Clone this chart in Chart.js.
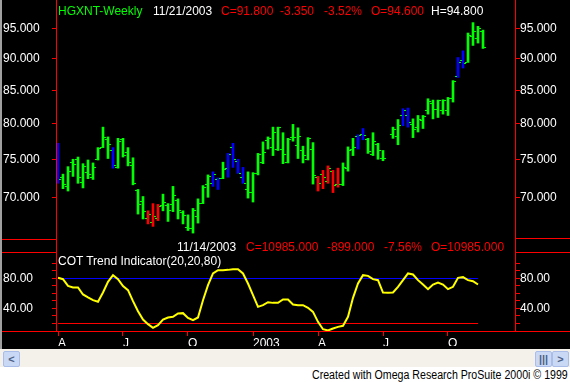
<!DOCTYPE html>
<html><head><meta charset="utf-8">
<script src="https://cdn.jsdelivr.net/npm/chart.js@4.4.1/dist/chart.umd.min.js"></script>
<style>
html,body{margin:0;padding:0;background:#fff;}
#wrap{position:relative;width:570px;height:382px;overflow:hidden;font-family:"Liberation Sans",Arial,sans-serif;}
#bg{position:absolute;left:0;top:0;width:570px;height:349px;background:#000;}
#gb{position:absolute;left:0;top:0;width:2px;height:349px;background:#a0a0a0;}
canvas{position:absolute;left:0;}
.ln{position:absolute;background:#ff0000;}
.t{position:absolute;font-size:12px;line-height:12px;white-space:pre;}
#sb{position:absolute;left:0;top:349px;width:570px;height:18px;background:#f3f1ea;}
.btn{position:absolute;top:351px;width:15px;height:14px;background:#c9d8f5;border:1px solid #a9bde8;border-radius:2px;color:#4d6185;font-size:11px;line-height:14px;text-align:center;font-weight:bold;}
</style></head><body>
<div id="wrap">
 <div id="bg"></div>
 <div id="gb"></div>
 <canvas id="cTop" width="570" height="240" style="top:0px"></canvas>
 <canvas id="cBot" width="570" height="94" style="top:252px"></canvas>
 <div class="ln" style="left:56px;top:0;width:1px;height:332px"></div>
 <div class="ln" style="left:515px;top:0;width:1px;height:332px"></div>
 <div class="ln" style="left:2px;top:331px;width:568px;height:1px"></div>
 <div class="ln" style="left:2px;top:239px;width:54px;height:1px"></div>
 <div class="ln" style="left:2px;top:252px;width:54px;height:1px"></div>
 <div class="ln" style="left:516px;top:238px;width:54px;height:1px"></div>
 <div class="ln" style="left:516px;top:252px;width:54px;height:1px"></div>

 <div class="t" style="left:58px;top:5px;color:#00ff00">HGXNT-Weekly</div>
 <div class="t" style="left:153px;top:5px;color:#fff">11/21/2003</div>
 <div class="t" style="left:221px;top:5px;color:#ff0000">C=91.800</div>
 <div class="t" style="left:280px;top:5px;color:#ff0000">-3.350</div>
 <div class="t" style="left:324px;top:5px;color:#ff0000">-3.52%</div>
 <div class="t" style="left:371px;top:5px;color:#ff0000">O=94.600</div>
 <div class="t" style="left:431px;top:5px;color:#fff">H=94.800</div>

 <div class="t" style="left:177px;top:241px;color:#fff">11/14/2003</div>
 <div class="t" style="left:246px;top:241px;color:#ff0000">C=10985.000</div>
 <div class="t" style="left:327px;top:241px;color:#ff0000">-899.000</div>
 <div class="t" style="left:384px;top:241px;color:#ff0000">-7.56%</div>
 <div class="t" style="left:431px;top:241px;color:#ff0000">O=10985.000</div>
 <div class="t" style="left:58px;top:255px;color:#fff">COT Trend Indicator(20,20,80)</div>

 <div id="sb"></div>
 <div class="btn" style="left:3px">&lt;</div>
 <div class="btn" style="left:535px">|||</div>
 <div class="btn" style="left:552px">&gt;</div>
 <div class="t" style="left:312px;top:369px;color:#000;transform:scaleX(0.885);transform-origin:0 0">Created with Omega Research ProSuite 2000i © 1999</div>
</div>
<script>
// ---------- DATA ----------
// weekly bars, index 0 = week ending 2002-04-05, index 85 = 2003-11-21
const barOpen  = [76.1,72.5,71.4,74.6,74.9,71.9,73.2,72.6,74.9,76.6,77.8,76.2,73.9,77.8,75.9,74.1,70.9,69.5,67.4,66.9,67.3,69.0,69.0,69.1,69.6,68.1,66.3,66.1,67.6,69.2,71.6,71.8,72.3,72.4,73.7,76.6,74.7,72.5,71.0,70.6,73.1,74.6,77.6,76.6,76.4,76.4,74.6,78.0,76.9,76.2,75.0,76.3,72.5,73.0,72.0,73.4,71.6,71.6,73.7,76.3,78.2,78.5,77.7,75.7,77.1,75.1,null,78.4,78.1,81.2,81.2,79.9,79.4,80.4,82.0,82.95,82.15,82.0,81.9,83.7,87.1,89.7,89.4,93.7,93.4,94.6];
const barHigh  = [77.2,73.0,74.0,75.0,75.3,74.4,74.9,74.5,76.6,79.5,78.1,76.6,77.9,77.9,76.6,75.2,71.0,70.1,68.3,69.2,69.1,70.4,69.2,71.4,69.8,68.3,67.8,68.6,69.8,71.5,72.9,73.3,72.5,74.6,75.8,77.2,75.0,73.9,73.3,73.2,75.8,77.4,78.1,79.5,79.5,78.7,77.9,79.9,79.4,76.8,78.0,77.3,72.7,73.5,74.1,73.5,73.8,74.5,76.7,77.9,78.4,79.3,77.9,78.7,77.2,76.2,null,79.5,80.6,82.2,82.3,80.7,81.2,81.2,83.7,83.5,83.5,83.55,83.9,86.5,90.2,91.3,94.3,96.1,95.45,94.8];
const barLow   = [71.8,71.1,70.8,72.7,71.8,71.2,72.4,72.3,74.9,76.6,75.1,73.8,73.8,75.3,74.1,71.6,67.9,67.3,66.7,66.4,67.1,68.3,67.0,68.2,67.3,66.7,65.9,65.6,66.8,69.2,70.0,71.4,71.0,72.4,72.6,73.9,73.1,71.8,69.9,69.4,72.9,74.4,76.4,75.5,76.2,74.4,74.5,77.5,75.1,74.5,74.9,71.7,70.8,71.1,71.8,70.6,71.3,71.5,73.4,75.5,76.4,77.7,75.8,75.5,75.0,74.8,null,77.9,77.0,79.7,79.5,78.0,78.8,79.3,81.4,80.7,80.9,81.4,81.2,83.2,87.0,88.5,89.4,92.2,92.6,91.7];
const barClose = [72.3,71.6,73.3,74.3,72.5,74.0,72.9,73.9,76.5,77.95,77.0,74.2,77.4,75.5,74.6,71.8,69.1,68.2,67.8,67.6,68.8,69.4,68.3,70.2,68.3,67.7,66.2,68.4,69.2,71.3,72.7,72.9,72.4,73.6,75.7,74.9,73.1,71.8,70.6,73.1,75.7,75.9,77.9,78.8,79.4,75.6,77.8,78.0,78.1,75.5,77.9,72.8,71.8,72.5,73.7,71.5,71.6,73.9,76.2,76.6,78.3,78.3,76.1,77.5,76.2,75.1,null,79.1,79.7,82.0,80.1,79.2,80.6,81.0,83.35,82.1,83.45,83.45,83.7,86.4,89.4,89.3,93.9,94.5,95.0,91.8];
// paint-bar state: G = green, B = blue, R = red
const barPaint = "BGGGGGGGGGGBGGGGGGRRRGGGGGGGGGGBBGBBBBGGGGGGGGGGGGGGRRRRRGGGBBGGGGGGGBBGGGGGGGGGBBGGGG";
// COT Trend Indicator(20,20,80), index 0..84 (to 11/14/2003)
const cotValues = [80.9,79.1,70.2,68.0,68.0,58.7,54.7,51.1,48.9,61.3,75.5,84.4,79.1,69.8,64.4,49.8,36.4,25.3,19.1,14.2,17.8,25.3,28.0,28.9,33.3,33.8,27.5,24.4,28.0,51.1,71.1,86.7,91.1,91.1,91.5,92.4,92.4,86.7,73.3,57.8,42.2,44.4,48.4,47.5,47.5,52.0,52.0,45.3,44.4,44.4,40.9,35.5,22.2,12.4,10.7,13.3,15.5,16.9,28.9,54.2,73.3,84.4,83.5,79.1,77.8,61.3,60.9,61.3,68.9,77.8,86.7,85.3,77.8,72.0,65.8,72.0,74.7,72.0,65.8,68.9,80.9,81.8,77.8,76.4,72.0];
const upperLevel = 80, lowerLevel = 20;
const priceTicks = [70,75,80,85,90,95];
const cotTicks = [20,30,40,50,60,70,80,90,100];
const cotLabels = [40,80];
const xTickIndex = [0,13,26,39,52,65,78];
const xTickLabels = ['A','J','O','2003','A','J','O'];

// ---------- RENDER ----------
const COL = {G:'#00ff00', B:'#0000ff', R:'#ff0000'};
const FONT = {family:'"Liberation Sans", Arial, sans-serif', size:12};
function tickImage(color, side){
  const c=document.createElement('canvas'); c.width=6; c.height=1;
  const g=c.getContext('2d'); g.fillStyle=color;
  g.fillRect(side<0?0:4,0,2,1); return c;
}
const openImg = tickImage('#00ff00',-1), closeImg = tickImage('#00ff00',1);

const bars=[], opens=[], closes=[], colors=[];
barOpen.forEach((o,i)=>{
  if(o==null) return;
  bars.push({x:i, y:[barLow[i], barHigh[i]]});
  colors.push(COL[barPaint[i]]);
  opens.push({x:i, y:o});
  closes.push({x:i, y:barClose[i]});
});
const X_MIN=-0.2, X_MAX=91.4;
const P_MAX=99.22, P_MIN=65.37;
function noPad(s){ s.paddingTop=0; s.paddingBottom=0; s.paddingLeft=0; s.paddingRight=0; }

function leftAxis(extra){ return Object.assign({
  position:'left', afterFit:s=>{s.width=54; noPad(s);},
  grid:{drawOnChartArea:false, color:'#ff0000', tickLength:5, lineWidth:1},
  border:{display:false}
}, extra); }
function rightAxis(extra){ return Object.assign({
  position:'right', afterFit:s=>{s.width=55; noPad(s);},
  grid:{drawOnChartArea:false, color:'#ff0000', tickLength:5, lineWidth:1},
  border:{display:false}
}, extra); }

new Chart(document.getElementById('cTop'), {
  type:'bar',
  data:{datasets:[
    {type:'bar', data:bars, backgroundColor:colors, borderWidth:0, barThickness:2, yAxisID:'y', order:2},
    {type:'scatter', data:opens, pointStyle:openImg, pointRadius:3, yAxisID:'y', order:1},
    {type:'scatter', data:closes, pointStyle:closeImg, pointRadius:3, yAxisID:'y', order:1}
  ]},
  options:{
    responsive:false, animation:false, devicePixelRatio:1,
    layout:{padding:{left:3,right:0,top:0,bottom:0}},
    plugins:{legend:{display:false}, tooltip:{enabled:false}},
    scales:{
      x:{type:'linear', min:X_MIN, max:X_MAX, display:false, offset:false},
      y:leftAxis({type:'logarithmic', min:P_MIN, max:P_MAX, bounds:'data',
        afterBuildTicks:s=>{s.ticks=priceTicks.map(v=>({value:v}));},
        ticks:{color:'#fff', font:FONT, crossAlign:'far', padding:0, autoSkip:false, callback:v=>Number(v).toFixed(3)}}),
      y2:rightAxis({type:'logarithmic', min:P_MIN, max:P_MAX, bounds:'data',
        afterBuildTicks:s=>{s.ticks=priceTicks.map(v=>({value:v}));},
        ticks:{color:'#fff', font:FONT, padding:0, autoSkip:false, callback:v=>Number(v).toFixed(3)}})
    }
  }
});

const cotPts = cotValues.map((v,i)=>({x:i,y:v}));
const lastIdx = cotValues.length-1;
new Chart(document.getElementById('cBot'), {
  type:'line',
  data:{datasets:[
    {data:[{x:0,y:lowerLevel},{x:lastIdx,y:lowerLevel}], borderColor:'#ff0000', borderWidth:1, pointRadius:0, order:3},
    {data:[{x:0,y:upperLevel},{x:lastIdx,y:upperLevel}], borderColor:'#0000ff', borderWidth:1, pointRadius:0, order:2},
    {data:cotPts, borderColor:'#ffff00', borderWidth:2, pointRadius:0, tension:0, order:1}
  ]},
  options:{
    responsive:false, animation:false, devicePixelRatio:1,
    layout:{padding:{left:3,right:0,top:0,bottom:0}},
    plugins:{legend:{display:false}, tooltip:{enabled:false}},
    scales:{
      x:{type:'linear', min:X_MIN, max:X_MAX, afterFit:s=>{s.height=15; noPad(s);},
        afterBuildTicks:s=>{s.ticks=xTickIndex.map(v=>({value:v}));},
        grid:{drawOnChartArea:false, color:'#ff0000', tickLength:5},
        border:{display:false},
        ticks:{color:'#fff', font:FONT, align:'start', padding:0, maxRotation:0, autoSkip:false,
          callback:v=>{const k=xTickIndex.indexOf(v); return k<0?'':xTickLabels[k];}}},
      y:leftAxis({type:'linear', min:10, max:115.33,
        afterBuildTicks:s=>{s.ticks=cotTicks.map(v=>({value:v}));},
        ticks:{color:'#fff', font:FONT, crossAlign:'far', padding:0, autoSkip:false,
          callback:v=>cotLabels.includes(v)?v.toFixed(2):''}}),
      y2:rightAxis({type:'linear', min:10, max:115.33,
        afterBuildTicks:s=>{s.ticks=cotTicks.map(v=>({value:v}));},
        ticks:{color:'#fff', font:FONT, padding:0, autoSkip:false,
          callback:v=>cotLabels.includes(v)?v.toFixed(2):''}})
    }
  }
});
</script>
</body></html>
